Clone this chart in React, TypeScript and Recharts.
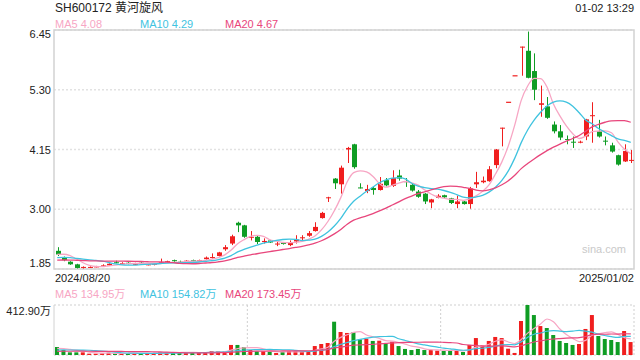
import React from 'react';
import {
  ComposedChart, Bar, Line, Cell, XAxis, YAxis, CartesianGrid, ReferenceArea,
} from 'recharts';

const RED = '#f01e1e';
const GREEN = '#0f9d24';
const MA_COLORS = ['#f7a6c4', '#3fc3df', '#e8467c'];
const FONT = 'Arial, "Liberation Sans", "Noto Sans CJK SC", sans-serif';

const title = 'SH600172 黄河旋风';
const stamp = '01-02 13:29';
const dateLabels = ['2024/08/20', '2025/01/02'];
const priceTicks = [1.85, 3.0, 4.15, 5.3, 6.45];
const volTicks = [0, 412.9];
const maLabels = ['MA5 4.08', 'MA10 4.29', 'MA20 4.67'];
const volMaLabels = ['MA5 134.95万', 'MA10 154.82万', 'MA20 173.45万'];

// daily candles, 2024/08/20 .. 2025/01/02
const opens = [
  2.20, 2.07, 1.99, 1.94, 1.88, 1.88, 1.89, 1.90, 1.92, 1.98,
  1.95, 1.97, 1.94, 1.97, 1.93, 1.93, 1.96, 1.98, 2.02, 1.99,
  1.99, 2.02, 2.01, 2.04, 2.07, 2.10, 2.23, 2.34, 2.74, 2.69,
  2.46, 2.47, 2.37, 2.40, 2.33, 2.35, 2.31, 2.38, 2.45, 2.49,
  2.58, 2.83, 3.22, 3.59, 3.48, 4.15, 4.25, 3.42, 3.35, 3.41,
  3.37, 3.56, 3.45, 3.65, 3.54, 3.47, 3.34, 3.30, 3.13, 3.22,
  3.27, 3.21, 3.10, 3.15, 3.10, 3.48, 3.52, 3.54, 3.85, 4.56,
  5.06, 5.57, 6.12, 6.05, 5.66, 5.01, 4.98, 4.63, 4.50, 4.35,
  4.30, 4.29, 4.40, 4.80, 4.50, 4.32, 4.23, 4.04, 3.92, 3.94,
];
const highs = [
  2.27, 2.09, 2.00, 1.95, 1.90, 1.90, 1.91, 1.94, 1.96, 2.01,
  1.98, 1.98, 1.97, 1.98, 1.96, 1.95, 2.05, 2.01, 2.03, 2.01,
  2.02, 2.03, 2.03, 2.09, 2.15, 2.18, 2.31, 2.51, 2.76, 2.70,
  2.58, 2.50, 2.44, 2.41, 2.37, 2.37, 2.40, 2.50, 2.50, 2.58,
  2.75, 2.95, 3.24, 3.60, 3.84, 4.20, 4.26, 3.50, 3.47, 3.43,
  3.62, 3.60, 3.75, 3.76, 3.60, 3.50, 3.37, 3.31, 3.20, 3.29,
  3.28, 3.22, 3.26, 3.16, 3.43, 3.72, 3.63, 3.83, 4.16, 4.57,
  5.06, 5.57, 6.13, 6.42, 6.00, 5.38, 5.16, 4.69, 4.62, 4.42,
  4.40, 4.32, 4.74, 5.06, 4.72, 4.40, 4.28, 4.05, 4.25, 4.14,
];
const lows = [
  2.10, 2.00, 1.93, 1.86, 1.86, 1.87, 1.88, 1.89, 1.91, 1.96,
  1.94, 1.94, 1.93, 1.95, 1.92, 1.92, 1.95, 1.97, 1.99, 1.97,
  1.98, 2.00, 2.00, 2.03, 2.05, 2.09, 2.20, 2.31, 2.56, 2.45,
  2.40, 2.33, 2.34, 2.35, 2.29, 2.32, 2.29, 2.34, 2.40, 2.47,
  2.57, 2.82, 3.14, 3.39, 3.30, 3.89, 3.78, 3.40, 3.31, 3.28,
  3.36, 3.44, 3.43, 3.55, 3.43, 3.34, 3.22, 3.10, 3.02, 3.21,
  3.21, 3.10, 3.02, 3.09, 3.01, 3.41, 3.50, 3.53, 3.79, 4.21,
  5.06, 5.57, 5.57, 5.52, 5.10, 4.78, 4.74, 4.46, 4.33, 4.25,
  4.18, 4.27, 4.33, 4.28, 4.38, 4.23, 4.09, 3.84, 3.91, 3.89,
];
const closes = [
  2.13, 2.02, 1.94, 1.87, 1.89, 1.89, 1.90, 1.92, 1.95, 1.97,
  1.96, 1.96, 1.95, 1.96, 1.94, 1.95, 1.98, 2.00, 2.00, 1.98,
  2.01, 2.01, 2.02, 2.07, 2.08, 2.17, 2.27, 2.48, 2.69, 2.47,
  2.47, 2.37, 2.39, 2.36, 2.34, 2.34, 2.35, 2.42, 2.46, 2.54,
  2.66, 2.93, 3.23, 3.50, 3.80, 4.18, 3.81, 3.41, 3.39, 3.37,
  3.49, 3.46, 3.60, 3.59, 3.53, 3.36, 3.24, 3.15, 3.19, 3.26,
  3.23, 3.12, 3.15, 3.10, 3.40, 3.52, 3.55, 3.77, 4.15, 4.57,
  5.06, 5.57, 6.13, 5.53, 5.30, 5.04, 4.76, 4.50, 4.38, 4.34,
  4.29, 4.30, 4.73, 4.81, 4.40, 4.31, 4.11, 3.86, 4.12, 3.95,
];
// volume in 万 shares
const volumes = [
  66, 41, 22, 22, 22, 11, 11, 14, 19, 14,
  11, 11, 14, 14, 14, 14, 22, 22, 22, 22,
  22, 19, 19, 22, 33, 33, 33, 83, 83, 66,
  41, 30, 30, 25, 17, 25, 33, 33, 25, 30,
  74, 91, 99, 275, 190, 182, 190, 129, 135, 116,
  118, 94, 110, 74, 50, 41, 50, 41, 41, 36,
  33, 36, 41, 25, 83, 140, 80, 116, 149, 140,
  52, 17, 281, 412.9, 330, 239, 223, 165, 116, 99,
  83, 91, 215, 330, 157, 132, 124, 107, 198, 107,
];
// sessions before the visible window, used to seed the moving averages
const priorCloses = [
  1.95, 1.96, 1.98, 1.97, 1.99, 1.96, 1.97, 1.98, 1.97, 1.97,
  1.98, 2.00, 2.01, 2.03, 2.03, 2.00, 2.08, 2.20, 2.24,
];
const priorVolumes = [
  18, 22, 20, 19, 21, 20, 18, 22, 20, 20,
  24, 26, 25, 24, 26, 50, 55, 52, 52,
];

function movingAvg(series: number[], prior: number[], n: number) {
  const all = prior.concat(series);
  return series.map((_, i) => {
    const end = i + prior.length;
    let sum = 0;
    for (let k = end - n + 1; k <= end; k++) sum += all[k];
    return sum / n;
  });
}

const ma5 = movingAvg(closes, priorCloses, 5);
const ma10 = movingAvg(closes, priorCloses, 10);
const ma20 = movingAvg(closes, priorCloses, 20);
const vma5 = movingAvg(volumes, priorVolumes, 5);
const vma10 = movingAvg(volumes, priorVolumes, 10);
const vma20 = movingAvg(volumes, priorVolumes, 20);

const rows = closes.map((c, i) => ({
  i,
  open: opens[i],
  high: highs[i],
  low: lows[i],
  close: c,
  range: [lows[i], highs[i]],
  ma5: ma5[i],
  ma10: ma10[i],
  ma20: ma20[i],
  vol: volumes[i],
  vma5: vma5[i],
  vma10: vma10[i],
  vma20: vma20[i],
}));

const last = rows.length - 1;
const PLOT_LEFT = 54;
const PLOT_RIGHT = 634;
const plotW = PLOT_RIGHT - PLOT_LEFT;
const LABEL_X = 51;

const Candle = (props: any) => {
  const { x, y, width, height, payload } = props;
  const { open, close, high, low } = payload;
  const color = close >= open ? RED : GREEN;
  const top = Math.min(y, y + height);
  const h = Math.abs(height);
  const cx = Math.round(x + width / 2) + 0.5;
  if (high === low || h === 0) {
    return <rect x={x} y={top - 0.5} width={width} height={1.2} fill={color} />;
  }
  const k = h / (high - low);
  const yO = top + (high - open) * k;
  const yC = top + (high - close) * k;
  const bTop = Math.min(yO, yC);
  const bH = Math.max(Math.abs(yO - yC), 1);
  return (
    <g>
      <line x1={cx} x2={cx} y1={top} y2={top + h} stroke={color} strokeWidth={1} />
      <rect x={cx - width / 2} y={bTop} width={width} height={bH} fill={color} />
    </g>
  );
};

const PriceTick = (props: any) => {
  const { y, payload, index } = props;
  let dy = 4;
  if (index === 0) dy = -2;
  if (index === priceTicks.length - 1) dy = 8;
  return (
    <text x={LABEL_X} y={y + dy} textAnchor="end" fontSize={11} fill="#222" fontFamily={FONT}>
      {payload.value.toFixed(2)}
    </text>
  );
};

const DateTick = (props: any) => {
  const { payload } = props;
  const first = payload.value === 0;
  return (
    <text
      x={first ? PLOT_LEFT + 1 : PLOT_RIGHT}
      y={281.5}
      textAnchor={first ? 'start' : 'end'}
      fontSize={11}
      fill="#222"
      fontFamily={FONT}
    >
      {first ? dateLabels[0] : dateLabels[1]}
    </text>
  );
};

const VolTick = (props: any) => {
  const { y, payload } = props;
  const top = payload.value > 0;
  return (
    <text x={LABEL_X} y={top ? y + 10 : y - 3} textAnchor="end" fontSize={11} fill="#222" fontFamily={FONT}>
      {top ? `${payload.value.toFixed(2)}万` : '0'}
    </text>
  );
};

const labelRow = (items: string[], top: number) =>
  items.map((t, k) => (
    <div
      key={t}
      style={{
        position: 'absolute', left: 55 + k * 85, top, fontSize: 11, lineHeight: '14px',
        color: MA_COLORS[k], whiteSpace: 'nowrap',
      }}
    >
      {t}
    </div>
  ));

export default function App() {
  return (
    <div
      style={{
        position: 'absolute', left: 0, top: 0, width: 640, height: 360,
        background: '#fff', fontFamily: FONT, overflow: 'hidden',
      }}
    >
      <div style={{ position: 'absolute', left: 55, top: 0, fontSize: 12, lineHeight: '16px', color: '#222' }}>
        {title}
      </div>
      <div style={{ position: 'absolute', right: 6, top: 0, fontSize: 11, lineHeight: '16px', color: '#222' }}>
        {stamp}
      </div>
      {labelRow(maLabels, 17)}

      <div style={{ position: 'absolute', left: 0, top: 0 }}>
        <ComposedChart width={640} height={290} data={rows} margin={{ top: 30, right: 640 - PLOT_RIGHT, bottom: 0, left: 0 }}>
          <CartesianGrid vertical={false} stroke="#e2e2e2" strokeDasharray="2 2" strokeWidth={1.5} />
          <XAxis
            dataKey="i"
            type="category"
            ticks={[0, last]}
            interval={0}
            height={21}
            axisLine={false}
            tickLine={false}
            tick={<DateTick />}
          />
          <YAxis
            domain={[1.85, 6.45]}
            ticks={priceTicks}
            width={PLOT_LEFT}
            axisLine={false}
            tickLine={false}
            tick={<PriceTick />}
            allowDataOverflow
          />
          <ReferenceArea y1={1.85} y2={6.45} fill="none" stroke="#d2d2d2" strokeWidth={1.5} />
          <Bar dataKey="range" barSize={5} shape={<Candle />} isAnimationActive={false} />
          <Line dataKey="ma5" type="monotone" stroke={MA_COLORS[0]} strokeWidth={1.3} dot={false} isAnimationActive={false} />
          <Line dataKey="ma10" type="monotone" stroke={MA_COLORS[1]} strokeWidth={1.3} dot={false} isAnimationActive={false} />
          <Line dataKey="ma20" type="monotone" stroke={MA_COLORS[2]} strokeWidth={1.3} dot={false} isAnimationActive={false} />
        </ComposedChart>
      </div>

      <div style={{ position: 'absolute', left: 582, top: 242, fontSize: 11, lineHeight: '14px', color: '#c9c9c9' }}>
        sina.com
      </div>

      {labelRow(volMaLabels, 287)}

      <div style={{ position: 'absolute', left: 0, top: 290 }}>
        <ComposedChart width={640} height={70} data={rows} margin={{ top: 15, right: 640 - PLOT_RIGHT, bottom: 5, left: 0 }}>
          <CartesianGrid
            horizontalPoints={[15, 65]}
            verticalPoints={[PLOT_LEFT + plotW / 3, PLOT_LEFT + (2 * plotW) / 3, PLOT_RIGHT]}
            stroke="#cfcfcf"
            strokeDasharray="2 2"
          />
          <XAxis dataKey="i" type="category" hide />
          <YAxis
            domain={[0, 412.9]}
            ticks={volTicks}
            width={PLOT_LEFT}
            axisLine={{ stroke: '#d2d2d2' }}
            tickLine={false}
            tick={<VolTick />}
          />
          <Bar dataKey="vol" barSize={4} isAnimationActive={false}>
            {rows.map((r, k) => (
              <Cell key={`v-${k}`} fill={r.close >= r.open ? RED : GREEN} />
            ))}
          </Bar>
          <Line dataKey="vma5" type="monotone" stroke={MA_COLORS[0]} strokeWidth={1.2} dot={false} isAnimationActive={false} />
          <Line dataKey="vma10" type="monotone" stroke={MA_COLORS[1]} strokeWidth={1.2} dot={false} isAnimationActive={false} />
          <Line dataKey="vma20" type="monotone" stroke={MA_COLORS[2]} strokeWidth={1.2} dot={false} isAnimationActive={false} />
        </ComposedChart>
      </div>
    </div>
  );
}
